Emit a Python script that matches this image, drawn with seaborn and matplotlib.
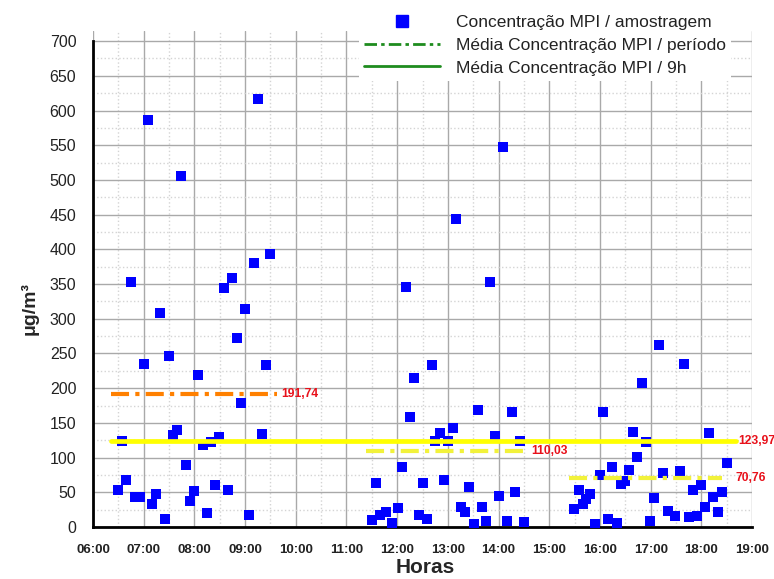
import numpy as np
import pandas as pd
import seaborn as sns
import matplotlib.pyplot as plt
from matplotlib.lines import Line2D
from matplotlib.ticker import MultipleLocator, FuncFormatter

# amostragens (hora decimal, concentracao em ug/m3)
horas_manha = [6.50, 6.57, 6.66, 6.74, 6.83, 6.93, 7.00, 7.08, 7.16, 7.24, 7.32, 7.42, 7.50,
               7.57, 7.66, 7.74, 7.83, 7.91, 8.00, 8.07, 8.16, 8.24, 8.32, 8.41, 8.49, 8.58,
               8.66, 8.75, 8.84, 8.91, 9.00, 9.08, 9.17, 9.26, 9.33, 9.41, 9.50]
conc_manha = [54, 124, 67, 353, 43, 43, 235, 587, 33, 48, 308, 11, 246,
              133, 140, 505, 89, 37, 52, 219, 118, 20, 122, 60, 130, 344,
              54, 359, 273, 179, 314, 17, 381, 616, 134, 233, 394]

horas_meio = [11.51, 11.59, 11.67, 11.77, 11.90, 12.01, 12.09, 12.17, 12.26, 12.34, 12.43, 12.50,
              12.59, 12.68, 12.75, 12.84, 12.92, 13.00, 13.10, 13.17, 13.25, 13.34, 13.42, 13.51,
              13.59, 13.68, 13.75, 13.84, 13.92, 14.01, 14.09, 14.16, 14.26, 14.33, 14.43, 14.50]
conc_meio = [10, 64, 17, 21, 6, 27, 86, 346, 159, 214, 17, 64,
             12, 233, 124, 136, 67, 124, 143, 444, 29, 21, 57, 5,
             169, 29, 8, 353, 131, 45, 548, 9, 165, 50, 124, 7]

horas_tarde = [15.49, 15.58, 15.66, 15.72, 15.81, 15.91, 16.00, 16.07, 16.16, 16.24, 16.33, 16.41,
               16.50, 16.57, 16.66, 16.74, 16.83, 16.91, 16.99, 17.07, 17.17, 17.25, 17.34, 17.49,
               17.58, 17.66, 17.75, 17.83, 17.91, 18.00, 18.08, 18.16, 18.24, 18.33, 18.40, 18.50]
conc_tarde = [26, 54, 33, 40, 47, 5, 75, 166, 11, 86, 6, 62,
              66, 82, 137, 101, 208, 123, 9, 42, 262, 78, 23, 16,
              81, 235, 15, 54, 16, 61, 29, 135, 43, 22, 50, 92]

# medias por periodo e media das 9h
medias_periodo = [191.74, 110.03, 70.76]
inicio_periodo = [6.36, 11.38, 15.39]
fim_periodo = [9.62, 14.55, 18.40]
rotulos_periodo = ["191,74", "110,03", "70,76"]
media_9h = 123.97
rotulo_9h = "123,97"

df = pd.DataFrame({
    "hora": horas_manha + horas_meio + horas_tarde,
    "conc": conc_manha + conc_meio + conc_tarde,
})

sns.set_style("white")
plt.rcParams["font.family"] = ["Liberation Sans", "DejaVu Sans"]
plt.rcParams["lines.scale_dashes"] = False

fig, ax = plt.subplots(figsize=(7.74, 5.79), dpi=100)
fig.subplots_adjust(left=0.1202, right=0.9716, bottom=0.0898, top=0.947)

sns.scatterplot(data=df, x="hora", y="conc", marker="s", s=58, color="#0000ff",
                linewidth=0, ax=ax, legend=False, zorder=3)

cores_periodo = ["#ff8000", "#f2f23a", "#f2f23a"]
for m, a, b, c in zip(medias_periodo, inicio_periodo, fim_periodo, cores_periodo):
    ax.plot([a, b], [m, m], color=c, lw=3, dashes=(13, 4.5, 3, 4.5), zorder=4)
ax.plot([6.36, 18.69], [media_9h, media_9h], color="#ffff00", lw=3.4, zorder=4)

pos_rotulos = [9.72, 14.65, 18.68]
for m, x, lab in zip(medias_periodo, pos_rotulos, rotulos_periodo):
    ax.text(x, m, lab, color="#e8101a", fontsize=8.7, fontweight="bold",
            va="center", ha="left", clip_on=False)
ax.text(18.73, media_9h, rotulo_9h, color="#e8101a", fontsize=8.7, fontweight="bold",
        va="center", ha="left", clip_on=False)

ax.set_xlim(6, 19)
ax.set_ylim(0, 715)
ax.xaxis.set_major_locator(MultipleLocator(1))
ax.xaxis.set_minor_locator(MultipleLocator(0.5))
ax.yaxis.set_major_locator(MultipleLocator(50))
ax.yaxis.set_minor_locator(MultipleLocator(25))
ax.set_yticks(np.arange(0, 701, 50))
ax.xaxis.set_major_formatter(FuncFormatter(lambda v, p: f"{int(round(v)):02d}:00"))

ax.grid(which="major", color="#a9a9a9", lw=1)
ax.grid(which="minor", color="#d4d4d4", lw=1, ls=":")
ax.set_axisbelow(True)

for s in ["top", "right"]:
    ax.spines[s].set_visible(False)
for s in ["left", "bottom"]:
    ax.spines[s].set_color("black")
    ax.spines[s].set_linewidth(2)
ax.spines["left"].set_bounds(0, 700)

ax.tick_params(which="major", direction="out", length=8, width=1.6, color="black", pad=4)
ax.tick_params(which="minor", direction="out", length=4, width=1.3, color="black")
ax.tick_params(axis="y", which="major", labelsize=11.5, labelcolor="#222222")
ax.tick_params(axis="x", which="major", labelsize=9.5, labelcolor="#222222")
for t in ax.get_xticklabels():
    t.set_fontweight("bold")

ax.set_xlabel("Horas", fontsize=15, fontweight="bold")
ax.set_ylabel("μg/m³", fontsize=14, fontweight="bold")
ax.xaxis.set_label_coords(0.504, -0.062)
ax.yaxis.set_label_coords(-0.082, 0.44)

verde = "#1e8c1e"
handles = [
    Line2D([], [], marker="s", color="#0000ff", ls="none", markersize=8),
    Line2D([], [], color=verde, lw=2, dashes=(9, 3, 2.5, 3)),
    Line2D([], [], color=verde, lw=2),
]
labels = ["Concentração MPI / amostragem", "Média Concentração MPI / período",
          "Média Concentração MPI / 9h"]
fig.legend(handles, labels, loc="upper left", bbox_to_anchor=(0.452, 0.999),
           frameon=True, facecolor="white", edgecolor="none", framealpha=1,
           fontsize=12.5, handlelength=4.4, labelspacing=0.45, handletextpad=0.9,
           borderpad=0.3, labelcolor="#222222")

fig.savefig("out.png", dpi=100)
